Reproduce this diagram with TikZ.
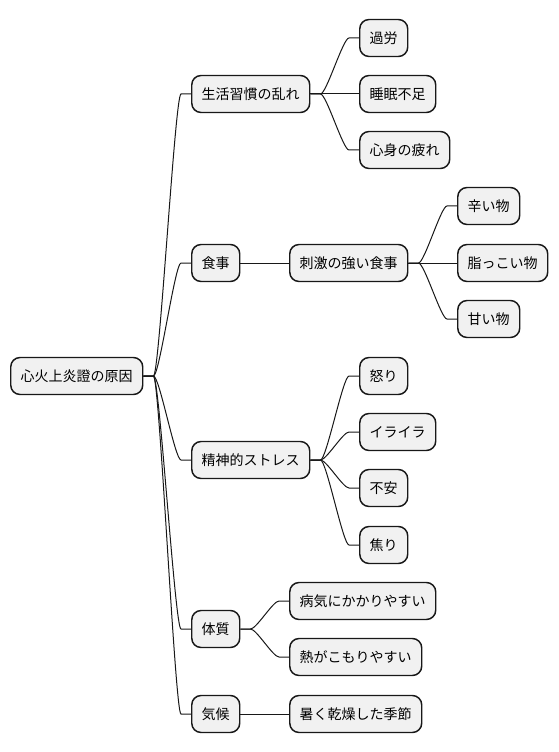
\documentclass[tikz,border=0pt]{standalone}
\usepackage{fontspec}
\setmainfont{Noto Sans CJK JP}
\usetikzlibrary{calc}

\definecolor{boxfill}{HTML}{F1F1F1}
\definecolor{boxline}{HTML}{181818}

\tikzset{every picture/.style={line width=0.75pt}}
\tikzset{
  mmbox/.style={draw=boxline, fill=boxfill, line width=1.1pt, rounded corners=7pt,
    anchor=west, inner xsep=7.5pt, inner ysep=0pt, minimum height=27.75pt,
    font=\fontsize{10.5pt}{12pt}\selectfont},
  mmline/.style={draw=boxline, line width=0.75pt}
}

\begin{document}
\begin{tikzpicture}[x=0.75pt,y=0.75pt,yscale=-1]
\useasboundingbox (0,0) rectangle (558,752);

% Text Node
\draw (10,376) node [mmbox] (root) {心火上炎證の原因};
% Text Node
\draw (191,94) node [mmbox] (life) {生活習慣の乱れ};
% Text Node
\draw (359,38) node [mmbox] (overwork) {過労};
% Text Node
\draw (359,94) node [mmbox] (sleep) {睡眠不足};
% Text Node
\draw (359,150) node [mmbox] (fatigue) {心身の疲れ};
% Text Node
\draw (191,263) node [mmbox] (diet) {食事};
% Text Node
\draw (289,263) node [mmbox] (strong) {刺激の強い食事};
% Text Node
\draw (457,206) node [mmbox] (spicy) {辛い物};
% Text Node
\draw (457,263) node [mmbox] (oily) {脂っこい物};
% Text Node
\draw (457,319) node [mmbox] (sweet) {甘い物};
% Text Node
\draw (191,460) node [mmbox] (stress) {精神的ストレス};
% Text Node
\draw (359,376) node [mmbox] (anger) {怒り};
% Text Node
\draw (359,432) node [mmbox] (irritate) {イライラ};
% Text Node
\draw (359,488) node [mmbox] (anxiety) {不安};
% Text Node
\draw (359,545) node [mmbox] (haste) {焦り};
% Text Node
\draw (191,629) node [mmbox] (constit) {体質};
% Text Node
\draw (289,601) node [mmbox] (sick) {病気にかかりやすい};
% Text Node
\draw (289,657) node [mmbox] (heat) {熱がこもりやすい};
% Text Node
\draw (191,714) node [mmbox] (climate) {気候};
% Text Node
\draw (289,714) node [mmbox] (dry) {暑く乾燥した季節};

%Curve Lines
\draw [mmline] (root.east) -- ++(10,0) .. controls +(6,0) and +(-6,0) .. ($(life.west)+(-10,0)$) -- (life.west);
%Curve Lines
\draw [mmline] (root.east) -- ++(10,0) .. controls +(6,0) and +(-6,0) .. ($(diet.west)+(-10,0)$) -- (diet.west);
%Curve Lines
\draw [mmline] (root.east) -- ++(10,0) .. controls +(6,0) and +(-6,0) .. ($(stress.west)+(-10,0)$) -- (stress.west);
%Curve Lines
\draw [mmline] (root.east) -- ++(10,0) .. controls +(6,0) and +(-6,0) .. ($(constit.west)+(-10,0)$) -- (constit.west);
%Curve Lines
\draw [mmline] (root.east) -- ++(10,0) .. controls +(6,0) and +(-6,0) .. ($(climate.west)+(-10,0)$) -- (climate.west);

%Curve Lines
\draw [mmline] (life.east) -- ++(10,0) .. controls +(6,0) and +(-6,0) .. ($(overwork.west)+(-10,0)$) -- (overwork.west);
%Straight Lines
\draw [mmline] (life.east) -- (sleep.west);
%Curve Lines
\draw [mmline] (life.east) -- ++(10,0) .. controls +(6,0) and +(-6,0) .. ($(fatigue.west)+(-10,0)$) -- (fatigue.west);

%Straight Lines
\draw [mmline] (diet.east) -- (strong.west);
%Curve Lines
\draw [mmline] (strong.east) -- ++(10,0) .. controls +(6,0) and +(-6,0) .. ($(spicy.west)+(-10,0)$) -- (spicy.west);
%Straight Lines
\draw [mmline] (strong.east) -- (oily.west);
%Curve Lines
\draw [mmline] (strong.east) -- ++(10,0) .. controls +(6,0) and +(-6,0) .. ($(sweet.west)+(-10,0)$) -- (sweet.west);

%Curve Lines
\draw [mmline] (stress.east) -- ++(10,0) .. controls +(6,0) and +(-6,0) .. ($(anger.west)+(-10,0)$) -- (anger.west);
%Curve Lines
\draw [mmline] (stress.east) -- ++(10,0) .. controls +(6,0) and +(-6,0) .. ($(irritate.west)+(-10,0)$) -- (irritate.west);
%Curve Lines
\draw [mmline] (stress.east) -- ++(10,0) .. controls +(6,0) and +(-6,0) .. ($(anxiety.west)+(-10,0)$) -- (anxiety.west);
%Curve Lines
\draw [mmline] (stress.east) -- ++(10,0) .. controls +(6,0) and +(-6,0) .. ($(haste.west)+(-10,0)$) -- (haste.west);

%Curve Lines
\draw [mmline] (constit.east) -- ++(10,0) .. controls +(6,0) and +(-6,0) .. ($(sick.west)+(-10,0)$) -- (sick.west);
%Curve Lines
\draw [mmline] (constit.east) -- ++(10,0) .. controls +(6,0) and +(-6,0) .. ($(heat.west)+(-10,0)$) -- (heat.west);

%Straight Lines
\draw [mmline] (climate.east) -- (dry.west);

\end{tikzpicture}
\end{document}
